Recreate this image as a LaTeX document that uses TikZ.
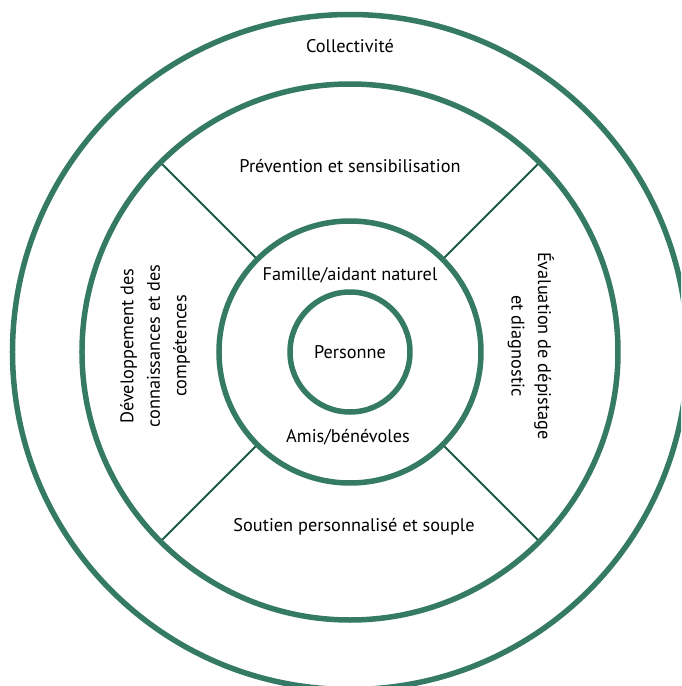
\documentclass[tikz,border=0pt]{standalone}
\usepackage{fontspec}
\setmainfont{PT Sans}

\definecolor{ringgreen}{RGB}{52,122,100}
\definecolor{spokegreen}{RGB}{28,92,72}

\begin{document}
\begin{tikzpicture}[x=1pt,y=1pt,
    ring/.style={draw=ringgreen, line width=5.5pt},
    spoke/.style={draw=spokegreen, line width=1.8pt},
    label/.style={font=\fontsize{18.3}{26.5}\selectfont, align=center, inner sep=0pt}]
  \def\Ra{60}
  \def\Rb{131}
  \def\Rc{268}
  \def\Rd{337.5}
  \coordinate (O) at (0,0);

  % page frame, the outer ring runs off it
  \useasboundingbox (-350,-334) rectangle (331,352);
  \clip (-350,-334) rectangle (331,352);

  % four spokes between the family ring and the services ring
  \foreach \a in {45,135,225,315} {
    \coordinate (s\a) at (\a:\Rb);
    \coordinate (t\a) at (\a:\Rc);
    \draw[spoke] (s\a) -- (t\a);
  }

  \draw[ring] (O) circle (\Ra);
  \draw[ring] (O) circle (\Rb);
  \draw[ring] (O) circle (\Rc);
  \draw[ring] (O) circle (\Rd);

  \node[label] (pers) at (0,0) {Personne};
  \node[label] (fam) at (0,77) {Famille/aidant naturel};
  \node[label] (amis) at (-2,-85) {Amis/bénévoles};
  \node[label] (prev) at (0,186) {Prévention et sensibilisation};
  \node[label] (sout) at (4,-175) {Soutien personnalisé et souple};
  \node[label, rotate=90] (dev) at (-195,6)
    {Développement des\\connaissances et des\\compétences};
  \node[label, rotate=-90] (eval) at (181,6)
    {Évaluation de dépistage\\et diagnostic};
  \node[label] (coll) at (0,306) {Collectivité};
\end{tikzpicture}
\end{document}
